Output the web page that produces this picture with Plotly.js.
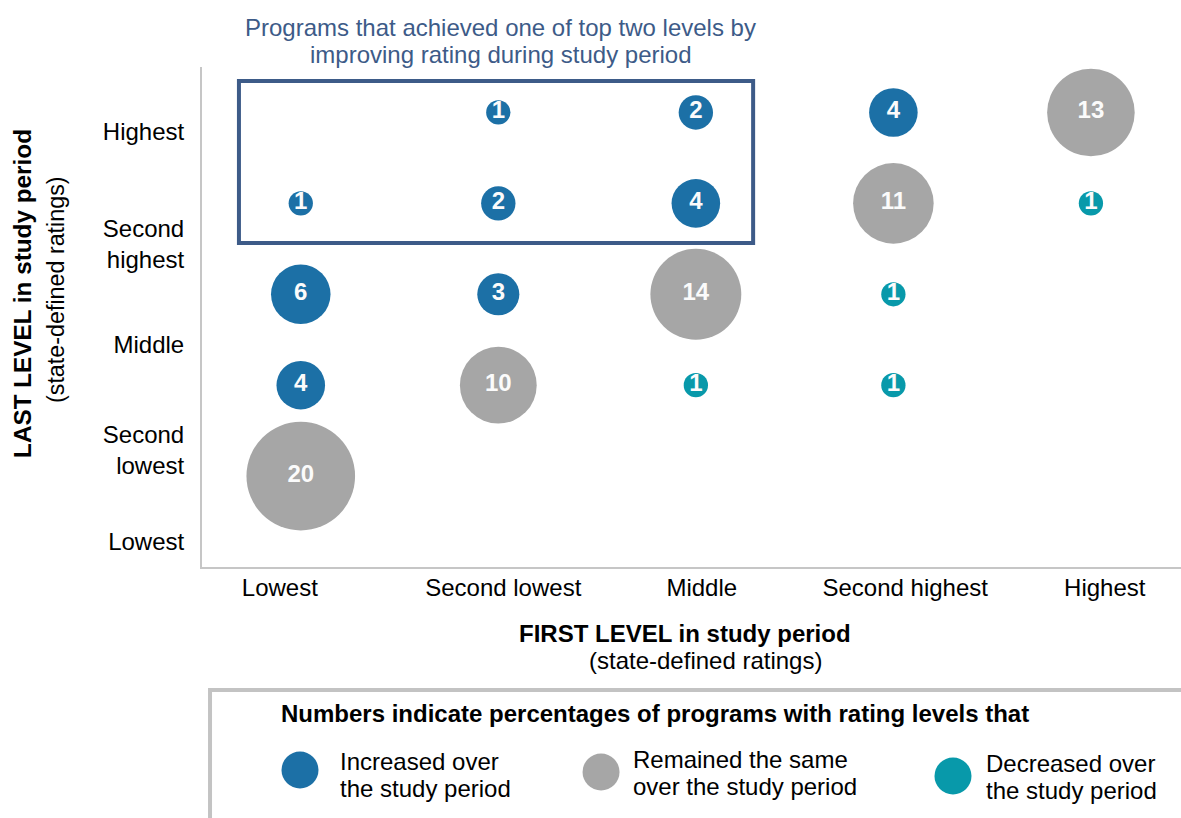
<!DOCTYPE html>
<html>
<head>
<meta charset="utf-8">
<script src="https://cdn.plot.ly/plotly-3.0.1.min.js"></script>
<style>html,body{margin:0;padding:0;background:#fff;}#chart{width:1181px;height:818px;}</style>
</head>
<body>
<div id="chart"></div>
<script>
// ---- Data ----
const levels = ['Lowest', 'Second lowest', 'Middle', 'Second highest', 'Highest'];
const xTickText = ['Lowest', 'Second lowest', 'Middle', 'Second highest', 'Highest'];
const yTickText = ['Lowest', 'Second<br>lowest', 'Middle', 'Second<br>highest', 'Highest'];

const increasedFirst = ['Second lowest', 'Middle', 'Second highest', 'Lowest', 'Second lowest', 'Middle', 'Lowest', 'Second lowest', 'Lowest'];
const increasedLast  = ['Highest', 'Highest', 'Highest', 'Second highest', 'Second highest', 'Second highest', 'Middle', 'Middle', 'Second lowest'];
const increasedPct   = [1, 2, 4, 1, 2, 4, 6, 3, 4];

const sameFirst = ['Lowest', 'Second lowest', 'Middle', 'Second highest', 'Highest'];
const sameLast  = ['Lowest', 'Second lowest', 'Middle', 'Second highest', 'Highest'];
const samePct   = [20, 10, 14, 11, 13];

const decreasedFirst = ['Highest', 'Second highest', 'Middle', 'Second highest'];
const decreasedLast  = ['Second highest', 'Middle', 'Second lowest', 'Second lowest'];
const decreasedPct   = [1, 1, 1, 1];

// ---- Styles ----
const BLUE = '#1c70a6', GRAY = '#a6a6a6', TEAL = '#0899aa';
const FONT = '"Liberation Sans", Arial, sans-serif';
const SIZEREF = 0.00339;

const idx = n => levels.indexOf(n) + 1;

function bubbleTrace(first, last, pct, color, name) {
  return {
    type: 'scatter', mode: 'markers+text', name: name,
    x: first.map(idx), y: last.map(idx),
    text: pct.map(String),
    textposition: 'middle center',
    textfont: {family: FONT, size: 24, color: '#fbfbfb', weight: 'bold'},
    marker: {size: pct, sizemode: 'area', sizeref: SIZEREF, color: color, line: {width: 0}, opacity: 1},
    hoverinfo: 'skip', cliponaxis: false
  };
}

const data = [
  bubbleTrace(increasedFirst, increasedLast, increasedPct, BLUE, 'Increased'),
  bubbleTrace(sameFirst, sameLast, samePct, GRAY, 'Same'),
  bubbleTrace(decreasedFirst, decreasedLast, decreasedPct, TEAL, 'Decreased')
];

const legendItems = [
  {color: BLUE, lines: ['Increased over', 'the study period'], cx: 0.1001, cy: -0.406, tx: 0.139, ty: [-0.388, -0.442]},
  {color: GRAY, lines: ['Remained the same', 'over the study period'], cx: 0.4076, cy: -0.410, tx: 0.4383, ty: [-0.384, -0.438]},
  {color: TEAL, lines: ['Decreased over', 'the study period'], cx: 0.7671, cy: -0.418, tx: 0.7988, ty: [-0.392, -0.446]}
];

const shapes = [
  // highlight box
  {type: 'rect', xref: 'x', yref: 'y', x0: 0.687, x1: 3.29, y0: 3.564, y1: 5.346,
   line: {color: '#3d5b88', width: 4}, fillcolor: 'rgba(0,0,0,0)', layer: 'below'},
  // legend frame
  {type: 'rect', xref: 'paper', yref: 'paper', x0: 0.0082, x1: 1.05, y0: -0.56, y1: -0.246,
   line: {color: '#c3c3c3', width: 4}, fillcolor: 'rgba(0,0,0,0)'}
];
const annotations = [
  {text: 'Programs that achieved one of top two levels by', x: 0.3054, y: 1.078, xref: 'paper', yref: 'paper',
   xanchor: 'center', yanchor: 'middle', showarrow: false, font: {family: FONT, size: 24, color: '#3d5b88'}},
  {text: 'improving rating during study period', x: 0.3054, y: 1.024, xref: 'paper', yref: 'paper',
   xanchor: 'center', yanchor: 'middle', showarrow: false, font: {family: FONT, size: 24, color: '#3d5b88'}},
  {text: '<b>LAST LEVEL in study period</b>', x: -0.1839, y: 0.548, xref: 'paper', yref: 'paper', textangle: -90,
   xanchor: 'center', yanchor: 'middle', showarrow: false, font: {family: FONT, size: 24.3, color: '#000'}},
  {text: '(state-defined ratings)', x: -0.1491, y: 0.554, xref: 'paper', yref: 'paper', textangle: -90,
   xanchor: 'center', yanchor: 'middle', showarrow: false, font: {family: FONT, size: 23.3, color: '#000'}},
  {text: '<b>FIRST LEVEL in study period</b>', x: 0.4929, y: -0.132, xref: 'paper', yref: 'paper',
   xanchor: 'center', yanchor: 'middle', showarrow: false, font: {family: FONT, size: 24, color: '#000'}},
  {text: '(state-defined ratings)', x: 0.5148, y: -0.186, xref: 'paper', yref: 'paper',
   xanchor: 'center', yanchor: 'middle', showarrow: false, font: {family: FONT, size: 24, color: '#000'}},
  {text: '<b>Numbers indicate percentages of programs with rating levels that</b>', x: 0.0787, y: -0.292, xref: 'paper', yref: 'paper',
   xanchor: 'left', yanchor: 'middle', showarrow: false, font: {family: FONT, size: 24, color: '#000'}}
];
legendItems.forEach(it => {
  shapes.push({type: 'circle', xref: 'paper', yref: 'paper', xsizemode: 'pixel', ysizemode: 'pixel',
    xanchor: it.cx, yanchor: it.cy, x0: -18.5, x1: 18.5, y0: -18.5, y1: 18.5,
    fillcolor: it.color, line: {width: 0}});
  it.lines.forEach((ln, i) => annotations.push({text: ln, x: it.tx, y: it.ty[i], xref: 'paper', yref: 'paper',
    xanchor: 'left', yanchor: 'middle', showarrow: false, font: {family: FONT, size: 24, color: '#000'}}));
});

const layout = {
  width: 1181, height: 818,
  margin: {l: 202, r: 0, t: 67, b: 251, pad: 0},
  paper_bgcolor: '#fff', plot_bgcolor: '#fff',
  showlegend: false,
  font: {family: FONT, color: '#000'},
  xaxis: {range: [0.5, 5.456], showgrid: false, zeroline: false, showline: true, linecolor: '#c6c6c6', linewidth: 2,
    ticks: '', tickvals: [0.894, 2.025, 3.03, 4.06, 5.07], ticktext: xTickText,
    tickfont: {family: FONT, size: 24, color: '#000'}, ticklabelstandoff: -2, fixedrange: true},
  yaxis: {range: [0, 5.5], showgrid: false, zeroline: false, showline: true, linecolor: '#c6c6c6', linewidth: 2,
    ticks: '', tickvals: [0.275, 1.287, 2.442, 3.553, 4.785], ticktext: yTickText,
    tickfont: {family: FONT, size: 24, color: '#000'}, ticklabelstandoff: 11, fixedrange: true},
  shapes: shapes,
  annotations: annotations
};

Plotly.newPlot('chart', data, layout, {displayModeBar: false, staticPlot: true});
</script>
</body>
</html>
